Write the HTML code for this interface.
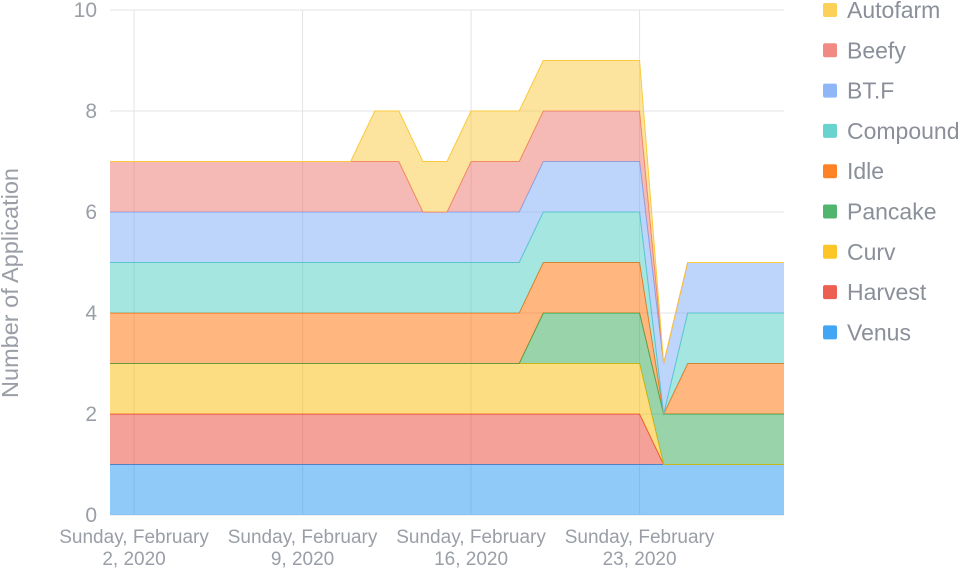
<!DOCTYPE html>
<html><head><meta charset="utf-8"><style>
body{margin:0;background:#fff;font-family:"Liberation Sans",Arial,sans-serif}
svg text{font-family:"Liberation Sans",Arial,sans-serif}
</style></head><body>
<svg id="chart" width="960" height="568" viewBox="0 0 960 568" xmlns="http://www.w3.org/2000/svg"></svg>
<script>
const seriesNames = ["Autofarm","Beefy","BT.F","Compound","Idle","Pancake","Curv","Harvest","Venus"];
const seriesColors = ["#fbc93d","#ee766d","#7baaf7","#4ecdc4","#ff6d00","#34a853","#fbbc04","#ea4335","#2196f3"];
// daily values Feb 1 .. Feb 29
const venus    = [1,1,1,1,1,1,1,1,1,1,1,1,1,1,1,1,1,1,1,1,1,1,1,1,1,1,1,1,1];
const harvest  = [1,1,1,1,1,1,1,1,1,1,1,1,1,1,1,1,1,1,1,1,1,1,1,0,0,0,0,0,0];
const curv     = [1,1,1,1,1,1,1,1,1,1,1,1,1,1,1,1,1,1,1,1,1,1,1,0,0,0,0,0,0];
const pancake  = [0,0,0,0,0,0,0,0,0,0,0,0,0,0,0,0,0,0,1,1,1,1,1,1,1,1,1,1,1];
const idle     = [1,1,1,1,1,1,1,1,1,1,1,1,1,1,1,1,1,1,1,1,1,1,1,0,1,1,1,1,1];
const compound = [1,1,1,1,1,1,1,1,1,1,1,1,1,1,1,1,1,1,1,1,1,1,1,0,1,1,1,1,1];
const btf      = [1,1,1,1,1,1,1,1,1,1,1,1,1,1,1,1,1,1,1,1,1,1,1,1,1,1,1,1,1];
const beefy    = [1,1,1,1,1,1,1,1,1,1,1,1,1,0,0,1,1,1,1,1,1,1,1,0,0,0,0,0,0];
const autofarm = [0,0,0,0,0,0,0,0,0,0,0,1,1,1,1,1,1,1,1,1,1,1,1,0,0,0,0,0,0];
const yTicks = [0,2,4,6,8,10];
const xTickIdx = [1,8,15,22];
const xTickLines1 = ["Sunday, February","Sunday, February","Sunday, February","Sunday, February"];
const xTickLines2 = ["2, 2020","9, 2020","16, 2020","23, 2020"];

const NS="http://www.w3.org/2000/svg";
const svg=document.getElementById('chart');
const L=110,R=784,T=10,B=515,YMAX=10;
const n=venus.length;
const xs=i=>L+i*(R-L)/(n-1);
const ys=v=>B-v*(B-T)/YMAX;
function mk(tag,attrs,parent){const e=document.createElementNS(NS,tag);for(const k in attrs)e.setAttribute(k,attrs[k]);(parent||svg).appendChild(e);return e;}

yTicks.forEach(v=>{
  const l=mk('line',{x1:L,x2:R,y1:ys(v),y2:ys(v),stroke:'#e3e3e3','stroke-width':1});
  
  
  const t=mk('text',{x:97,y:ys(v)+7,'text-anchor':'end','font-size':21,fill:'#9a9ea6'});
  t.textContent=v;
  
  
});
xTickIdx.forEach((idx,k)=>{
  const l=mk('line',{x1:xs(idx),x2:xs(idx),y1:T,y2:B,stroke:'#e3e3e3','stroke-width':1});
  
  
  const t=mk('text',{x:xs(idx),y:543,'text-anchor':'middle','font-size':19,fill:'#9a9ea6'});
  t.textContent=xTickLines1[k];
  
  
  const t2=mk('text',{x:xs(idx),y:565,'text-anchor':'middle','font-size':19,fill:'#9a9ea6'});
  t2.textContent=xTickLines2[k];
  
  
});
const yt=mk('text',{x:0,y:0,transform:'translate(18,283) rotate(-90)','text-anchor':'middle','font-size':23.5,fill:'#9a9ea6'});
yt.textContent='Number of Application';



const stackOrder=[[8,venus],[7,harvest],[6,curv],[5,pancake],[4,idle],[3,compound],[2,btf],[1,beefy],[0,autofarm]];
let base=new Array(n).fill(0);
stackOrder.forEach(([ci,vals])=>{
  const top=base.map((b,i)=>b+vals[i]);
  let d='M'+top.map((v,i)=>xs(i)+','+ys(v)).join(' L');
  for(let i=n-1;i>=0;i--)d+=' L'+xs(i)+','+ys(base[i]);
  d+='Z';
  const p=mk('path',{d:d,fill:seriesColors[ci],'fill-opacity':0.5,stroke:'none'});
  
  
  const ln=mk('polyline',{points:top.map((v,i)=>xs(i)+','+ys(v)).join(' '),fill:'none',stroke:seriesColors[ci],'stroke-width':1});
  
  
  base=top;
});

seriesNames.forEach((nm,i)=>{
  const y=10+i*40.3;
  const g=mk('g',{});
  
  
  mk('rect',{x:823,y:y-7,width:14,height:14,rx:2,fill:seriesColors[i],'fill-opacity':0.85},g);
  const t=mk('text',{x:847,y:y+8,'font-size':23,fill:'#8a8f99'},g);
  t.textContent=nm;
});
</script>
</body></html>
